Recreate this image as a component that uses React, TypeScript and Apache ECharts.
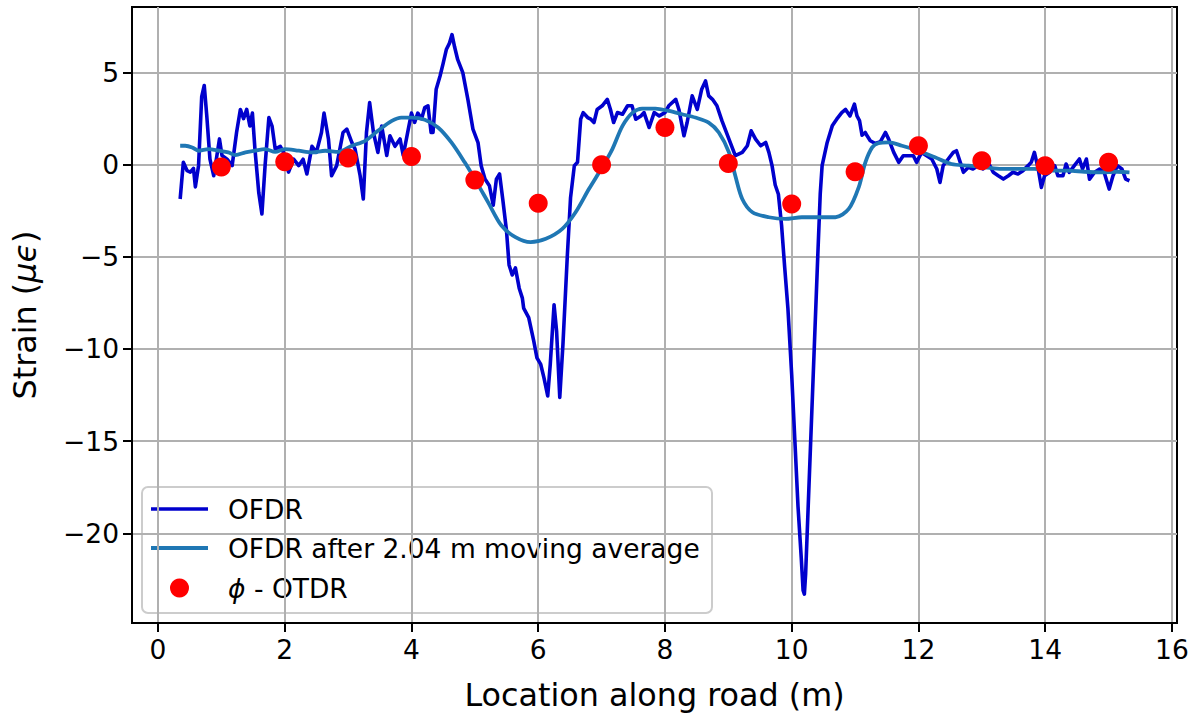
import React, { useEffect, useRef } from "react";
import * as echarts from "echarts";

// Tick positions shown on each axis
const xTicks = [0, 2, 4, 6, 8, 10, 12, 14, 16];
const yTicks = [-20, -15, -10, -5, 0, 5];

// Raw OFDR strain profile: [location (m), strain (µε)]
const ofdr: [number, number][] = [
  [0.35, -1.86], [0.4, 0.13], [0.46, -0.32], [0.51, -0.4], [0.56, -0.2], [0.59, -1.2],
  [0.64, -0.05], [0.69, 3.7], [0.73, 4.3], [0.77, 2.65], [0.82, 0.3], [0.88, -0.6],
  [0.93, 0.5], [0.97, 1.4], [1.01, 0.5], [1.09, 0.3], [1.17, -0.05], [1.24, 1.75],
  [1.3, 3.0], [1.35, 2.5], [1.4, 3.0], [1.45, 2.1], [1.49, 2.8], [1.53, 0.85],
  [1.59, -1.5], [1.64, -2.67], [1.69, -0.05], [1.75, 2.56], [1.8, 2.1], [1.85, 0.85],
  [1.93, 1.0], [1.98, 0.67], [2.06, -0.4], [2.14, 0.3], [2.22, -0.05], [2.29, 0.3],
  [2.35, -0.5], [2.43, 1.0], [2.5, 0.67], [2.58, 1.75], [2.62, 2.8], [2.69, 1.4],
  [2.74, -0.6], [2.82, -0.05], [2.92, 1.75], [2.98, 1.93], [3.06, 1.2], [3.11, 0.85],
  [3.19, -0.6], [3.24, -1.86], [3.29, 1.75], [3.34, 3.37], [3.4, 1.75], [3.47, 0.67],
  [3.53, 2.1], [3.61, 0.5], [3.66, 1.57], [3.74, 1.0], [3.82, 1.4], [3.87, 0.5],
  [3.95, 1.93], [4.0, 2.8], [4.05, 2.3], [4.1, 2.8], [4.16, 2.5], [4.21, 3.1],
  [4.26, 3.2], [4.31, 1.75], [4.34, 1.75], [4.39, 4.1], [4.45, 4.8], [4.5, 5.5],
  [4.55, 6.25], [4.6, 6.6], [4.64, 7.06], [4.68, 6.4], [4.73, 5.7], [4.81, 5.0],
  [4.89, 3.55], [4.97, 1.93], [5.05, 1.2], [5.1, -0.05], [5.16, -0.78], [5.23, -1.14],
  [5.29, -2.2], [5.34, -0.78], [5.39, -0.5], [5.44, -1.86], [5.5, -3.6], [5.54, -5.44],
  [5.59, -5.98], [5.64, -5.6], [5.7, -6.7], [5.75, -7.24], [5.77, -7.78], [5.85, -8.3],
  [5.93, -9.57], [5.98, -10.48], [6.04, -10.84], [6.09, -11.55], [6.15, -12.55], [6.19, -10.84],
  [6.25, -7.6], [6.29, -9.03], [6.34, -12.63], [6.39, -9.76], [6.46, -4.9], [6.51, -1.8],
  [6.57, -0.05], [6.62, 0.13], [6.67, 2.47], [6.71, 2.83], [6.78, 2.56], [6.83, 2.47],
  [6.88, 2.29], [6.93, 3.0], [7.01, 3.2], [7.09, 3.55], [7.14, 3.0], [7.19, 2.29],
  [7.25, 2.83], [7.33, 2.74], [7.41, 3.2], [7.48, 3.2], [7.54, 2.47], [7.62, 2.65],
  [7.67, 2.83], [7.75, 2.02], [7.83, 2.83], [7.91, 2.65], [8.0, 2.83], [8.06, 3.2],
  [8.17, 3.55], [8.22, 3.0], [8.3, 1.57], [8.35, 2.29], [8.43, 3.74], [8.51, 3.0],
  [8.58, 4.1], [8.64, 4.55], [8.69, 3.74], [8.75, 3.55], [8.82, 3.2], [8.9, 2.38],
  [9.01, 1.39], [9.11, 0.49], [9.22, 0.67], [9.3, 1.03], [9.36, 1.84], [9.43, 1.39],
  [9.51, 1.03], [9.59, 1.21], [9.64, 0.67], [9.69, -0.05], [9.74, -1.1], [9.79, -1.6],
  [9.84, -3.28], [9.89, -5.6], [9.94, -7.78], [10.0, -11.4], [10.05, -14.97], [10.1, -18.57],
  [10.15, -21.3], [10.18, -23.1], [10.2, -23.3], [10.22, -22.2], [10.26, -18.57], [10.31, -14.08],
  [10.36, -9.57], [10.41, -5.08], [10.45, -1.6], [10.48, -0.05], [10.56, 1.21], [10.64, 2.11],
  [10.71, 2.47], [10.79, 2.83], [10.85, 3.0], [10.92, 2.65], [10.99, 3.29], [11.03, 2.65],
  [11.07, 2.4], [11.11, 1.6], [11.16, 1.75], [11.19, 1.57], [11.24, 1.3], [11.32, 1.15],
  [11.4, 1.25], [11.48, 1.75], [11.53, 1.39], [11.61, 0.67], [11.69, 0.13], [11.76, 0.49],
  [11.84, 0.49], [11.92, 0.49], [11.97, 0.13], [12.05, 0.67], [12.13, 0.49], [12.21, 0.31],
  [12.29, -0.23], [12.34, -0.96], [12.39, -0.05], [12.47, 0.31], [12.55, 0.67], [12.6, 0.76],
  [12.66, 0.13], [12.71, -0.41], [12.79, -0.14], [12.86, -0.23], [12.94, -0.05], [13.02, -0.23],
  [13.1, 0.13], [13.18, -0.41], [13.26, -0.6], [13.34, -0.78], [13.42, -0.6], [13.49, -0.41],
  [13.57, -0.5], [13.65, -0.32], [13.73, -0.05], [13.78, 0.13], [13.83, 0.67], [13.89, -0.23],
  [13.94, -1.23], [13.99, -0.6], [14.07, -0.41], [14.15, -0.05], [14.2, -0.6], [14.28, -0.6],
  [14.33, 0.04], [14.38, -0.41], [14.46, -0.05], [14.54, 0.31], [14.59, -0.23], [14.65, 0.31],
  [14.7, -0.78], [14.78, -0.41], [14.86, -0.23], [14.93, -0.41], [15.01, -1.32], [15.07, -0.6],
  [15.14, -0.05], [15.21, -0.23], [15.27, -0.78], [15.33, -0.87],
];

// OFDR profile smoothed with a 2.04 m moving window
const movingAvg: [number, number][] = [
  [0.35, 1.03], [0.43, 1.03], [0.54, 0.94], [0.64, 0.76], [0.8, 0.85], [0.96, 0.76],
  [1.11, 0.67], [1.22, 0.52], [1.38, 0.67], [1.53, 0.76], [1.69, 0.85], [1.85, 0.7],
  [2.0, 0.85], [2.22, 0.76], [2.43, 0.67], [2.64, 0.76], [2.85, 0.7], [3.06, 1.03],
  [3.27, 1.3], [3.47, 1.84], [3.69, 2.38], [3.84, 2.56], [4.0, 2.56], [4.21, 2.44],
  [4.42, 2.02], [4.63, 1.21], [4.84, 0.13], [5.0, -0.78], [5.21, -2.04], [5.42, -3.3],
  [5.64, -3.93], [5.88, -4.2], [6.12, -4.02], [6.38, -3.48], [6.59, -2.58], [6.8, -1.32],
  [7.01, -0.14], [7.17, 0.85], [7.33, 2.11], [7.49, 2.83], [7.64, 3.05], [7.85, 3.05],
  [8.06, 2.92], [8.27, 2.74], [8.48, 2.56], [8.69, 2.29], [8.85, 1.75], [9.01, 0.67],
  [9.11, -0.6], [9.22, -1.86], [9.38, -2.58], [9.64, -2.85], [9.9, -2.94], [10.16, -2.85],
  [10.43, -2.85], [10.69, -2.85], [10.9, -2.4], [11.06, -1.2], [11.16, 0.1], [11.27, 0.94],
  [11.37, 1.17], [11.53, 1.21], [11.74, 1.03], [12.0, 0.76], [12.26, 0.4], [12.52, 0.04],
  [12.79, -0.05], [13.05, -0.14], [13.31, -0.23], [13.57, -0.23], [13.83, -0.23], [14.1, -0.32],
  [14.36, -0.32], [14.62, -0.38], [14.88, -0.41], [15.14, -0.38], [15.33, -0.41],
];

// φ-OTDR point measurements
const otdrX = [1, 2, 3, 4, 5, 6, 7, 8, 9, 10, 11, 12, 13, 14, 15];
const otdrY = [-0.12, 0.16, 0.36, 0.45, -0.83, -2.09, 0.0, 2.02, 0.07, -2.13, -0.38, 1.03, 0.22, -0.05, 0.13];

const FONT = "DejaVu Sans";
const BLUE = "#0000cd";
const TEAL = "#1f77b4";
const RED = "#ff0000";

const minusFmt = (v: number) => (v < 0 ? "\u2212" + Math.abs(v) : String(v));

export default function App() {
  const ref = useRef<HTMLDivElement>(null);

  useEffect(() => {
    const chart = echarts.init(ref.current!, null, { renderer: "svg" });

    const legendRows = [509, 548, 588];
    const legendTextStyle = { fontSize: 26.5, fill: "#000", fontFamily: FONT, verticalAlign: "middle" as const };

    chart.setOption({
      animation: false,
      backgroundColor: "#fff",
      textStyle: { fontFamily: FONT },
      grid: {
        left: 129,
        right: 16,
        top: 7,
        bottom: 88,
        show: true,
        borderColor: "#000",
        borderWidth: 2,
      },
      xAxis: {
        type: "value",
        min: -0.41,
        max: 16.08,
        splitNumber: 8,
        name: "Location along road (m)",
        nameLocation: "middle",
        nameGap: 55,
        nameTextStyle: { fontSize: 31.8, color: "#000", fontFamily: FONT },
        axisLine: { show: true, onZero: false, lineStyle: { color: "#000", width: 2 } },
        axisTick: { show: true, length: 9, customValues: xTicks, lineStyle: { color: "#000", width: 2 } },
        axisLabel: { customValues: xTicks, fontSize: 26.5, color: "#000", margin: 13, fontFamily: FONT, formatter: minusFmt },
        splitLine: { show: true, lineStyle: { color: "#b0b0b0", width: 2 } },
      },
      yAxis: {
        type: "value",
        min: -24.87,
        max: 8.56,
        splitNumber: 5,
        name: "Strain ({i|μϵ})",
        nameLocation: "middle",
        nameRotate: 90,
        nameGap: 92,
        nameTextStyle: {
          fontSize: 31.8,
          color: "#000",
          fontFamily: FONT,
          rich: { i: { fontStyle: "italic", fontSize: 31.8, color: "#000", fontFamily: FONT } },
        },
        axisLine: { show: true, onZero: false, lineStyle: { color: "#000", width: 2 } },
        axisTick: { show: true, length: 9, customValues: yTicks, lineStyle: { color: "#000", width: 2 } },
        axisLabel: { customValues: yTicks, fontSize: 26.5, color: "#000", margin: 13, fontFamily: FONT, formatter: minusFmt },
        splitLine: { show: true, lineStyle: { color: "#b0b0b0", width: 2 } },
      },
      series: [
        {
          name: "OFDR",
          type: "line",
          data: ofdr,
          showSymbol: false,
          lineStyle: { color: BLUE, width: 3.6, join: "round" },
          z: 2,
        },
        {
          name: "OFDR after 2.04 m moving average",
          type: "line",
          data: movingAvg,
          showSymbol: false,
          smooth: 0.3,
          lineStyle: { color: TEAL, width: 3.8 },
          z: 3,
        },
        {
          name: "ϕ - OTDR",
          type: "scatter",
          data: otdrX.map((x, i) => [x, otdrY[i]]),
          symbolSize: 19,
          itemStyle: { color: RED, opacity: 1 },
          z: 4,
        },
      ],
      graphic: [
        {
          type: "group",
          z: 100,
          children: [
            {
              type: "rect",
              shape: { x: 142, y: 487, width: 570, height: 126, r: 6 },
              style: { fill: "rgba(255,255,255,0.8)", stroke: "#cccccc", lineWidth: 2 },
            },
            {
              type: "line",
              shape: { x1: 151, y1: legendRows[0], x2: 208, y2: legendRows[0] },
              style: { stroke: BLUE, lineWidth: 3.6 },
            },
            { type: "text", x: 228, y: legendRows[0], style: { ...legendTextStyle, text: "OFDR" } },
            {
              type: "line",
              shape: { x1: 151, y1: legendRows[1], x2: 208, y2: legendRows[1] },
              style: { stroke: TEAL, lineWidth: 3.8 },
            },
            {
              type: "text",
              x: 228,
              y: legendRows[1],
              style: { ...legendTextStyle, text: "OFDR after 2.04 m moving average" },
            },
            {
              type: "circle",
              shape: { cx: 179.5, cy: legendRows[2], r: 9.5 },
              style: { fill: RED },
            },
            {
              type: "text",
              x: 228,
              y: legendRows[2],
              style: {
                ...legendTextStyle,
                text: "{i|ϕ} - OTDR",
                rich: { i: { fontStyle: "italic", fontSize: 26.5, fontFamily: FONT, fill: "#000" } },
              },
            },
          ],
        },
      ],
    });

    return () => chart.dispose();
  }, []);

  return (
    <div
      ref={ref}
      style={{ position: "fixed", left: 0, top: 0, width: 1193, height: 715, background: "#fff" }}
    />
  );
}
